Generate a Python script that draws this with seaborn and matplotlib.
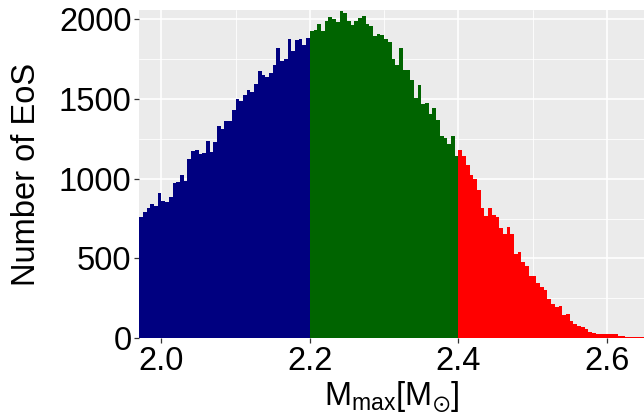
import numpy as np
import pandas as pd
import matplotlib
matplotlib.use("Agg")
import matplotlib.pyplot as plt
from matplotlib.ticker import MultipleLocator
import seaborn as sns

# --- data: histogram counts (bin width 0.005, first bin at 1.97) ---
bin_start = 1.97
bin_width = 0.005

# M_max < 2.2 (navy)
counts_low = [762, 794, 819, 844, 827, 907, 863, 856, 882, 970,
              976, 1020, 984, 1120, 1175, 1177, 1154, 1158, 1233, 1166,
              1227, 1328, 1309, 1359, 1359, 1429, 1497, 1485, 1522, 1554,
              1541, 1592, 1673, 1648, 1636, 1661, 1711, 1818, 1736, 1749,
              1874, 1799, 1868, 1874, 1837, 1881]
# 2.2 <= M_max < 2.4 (dark green)
counts_mid = [1925, 1931, 1968, 1925, 1987, 2012, 2000, 1981, 2050, 2037,
              1987, 1962, 1987, 2006, 2019, 1968, 1956, 1893, 1906, 1900,
              1874, 1855, 1749, 1711, 1818, 1679, 1679, 1617, 1504, 1586,
              1466, 1472, 1403, 1441, 1365, 1270, 1252, 1215, 1265, 1145]
# M_max >= 2.4 (red)
counts_high = [1177, 1139, 1083, 1020, 995, 926, 819, 768, 819, 774,
               762, 693, 655, 699, 655, 530, 542, 479, 454, 391,
               391, 347, 322, 303, 247, 216, 197, 203, 146, 153,
               109, 90, 77, 71, 55, 38, 33, 28, 24, 24,
               24, 24, 24, 12, 12, 6, 6, 6, 6, 6]

region_names = ["low", "mid", "high"]
region_colors = {"low": "#000080", "mid": "#006400", "high": "#FF0000"}

counts = counts_low + counts_mid + counts_high
regions = (["low"] * len(counts_low) + ["mid"] * len(counts_mid)
           + ["high"] * len(counts_high))
centers = bin_start + bin_width * (np.arange(len(counts)) + 0.5)
df = pd.DataFrame({"mmax": centers, "count": counts, "region": regions})

# --- style (ggplot-like grey panel) ---
sns.set_theme(style="darkgrid", rc={
    "axes.facecolor": "#EBEBEB",
    "grid.color": "white",
    "axes.edgecolor": "white",
})
plt.rcParams["font.family"] = ["Liberation Sans", "DejaVu Sans"]
plt.rcParams["mathtext.fontset"] = "custom"
plt.rcParams["mathtext.rm"] = "Liberation Sans"
plt.rcParams["mathtext.it"] = "Liberation Sans"

fig, ax = plt.subplots(figsize=(6.44, 4.17), dpi=100)
fig.subplots_adjust(left=0.216, right=1.0, top=0.976, bottom=0.189)

sns.histplot(data=df, x="mmax", weights="count", hue="region",
             hue_order=region_names, palette=region_colors,
             bins=len(counts), binrange=(bin_start, bin_start + bin_width * len(counts)),
             alpha=1, linewidth=0, legend=False, ax=ax)

ax.set_xlim(1.97, 2.65)
ax.set_ylim(0, 2057)
ax.xaxis.set_major_locator(MultipleLocator(0.2))
ax.xaxis.set_minor_locator(MultipleLocator(0.1))
ax.yaxis.set_major_locator(MultipleLocator(500))
ax.yaxis.set_minor_locator(MultipleLocator(250))
ax.set_xticks([2.0, 2.2, 2.4, 2.6])
ax.set_xticklabels(["2.0", "2.2", "2.4", "2.6"])

ax.grid(which="major", color="white", linewidth=1.2)
ax.grid(which="minor", color="white", linewidth=0.6)
ax.set_axisbelow(True)
for s in ax.spines.values():
    s.set_visible(False)

ax.tick_params(axis="both", which="major", length=3.5, width=0.9, color="#333333",
               labelsize=23.5, labelcolor="black", pad=2, direction="out",
               bottom=True, left=True)
ax.tick_params(axis="both", which="minor", length=0)

ax.set_xlabel(r"$\mathregular{M_{max}[M_{\odot}]}$", fontsize=23.5, color="black", labelpad=2)
ax.set_ylabel("Number of EoS", fontsize=23.5, color="black", labelpad=12)

fig.savefig("out.png", dpi=100)
